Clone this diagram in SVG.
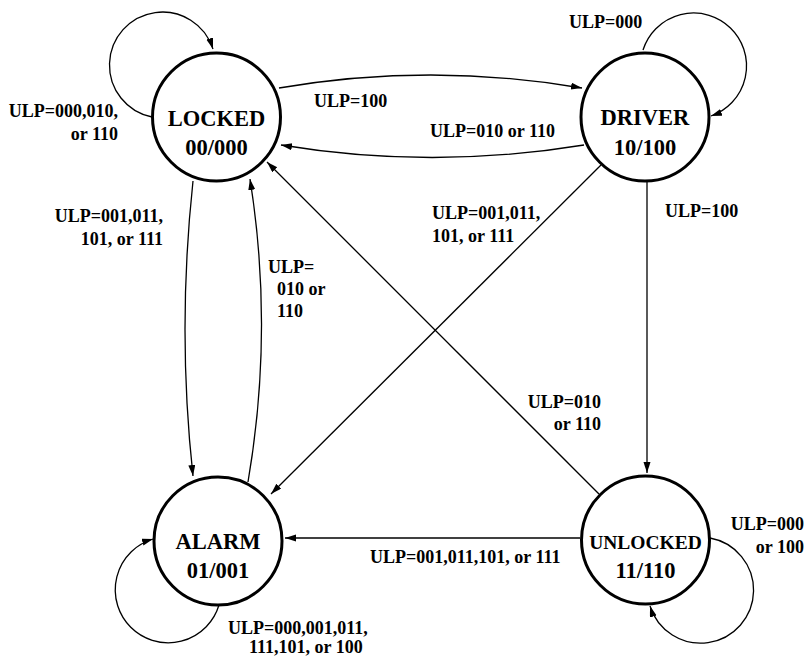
<svg xmlns="http://www.w3.org/2000/svg" width="807" height="658" viewBox="0 0 807 658">
<defs>
<marker id="ah" markerUnits="userSpaceOnUse" markerWidth="12" markerHeight="8" refX="11" refY="3.5" orient="auto">
<path d="M0,0 L11,3.5 L0,7 z" fill="#000"/>
</marker>
<style>
.st{fill:#fff;stroke:#000;stroke-width:3}
.nt{font-family:"Liberation Serif","Times New Roman",serif;font-weight:bold;font-size:22.5px;text-anchor:middle;fill:#000}
.lb{font-family:"Liberation Serif","Times New Roman",serif;font-weight:bold;font-size:18px;fill:#000}
.e{text-anchor:end}
.c{fill:none;stroke:#000;stroke-width:1.3;marker-end:url(#ah)}
</style>
</defs>
<rect width="807" height="658" fill="#fff"/>
<g id="connectors">
<path class="c" d="M152,117 A53,53 0 1 1 213,49"/>
<path class="c" d="M643,50 A53,53 0 1 1 711,116"/>
<path class="c" d="M219,605 A53,53 0 1 1 153,539"/>
<path class="c" d="M710,538 A53,53 0 1 1 650,606"/>
<path class="c" d="M279,88 Q431,62 582,88"/>
<path class="c" d="M584,145 Q432,170 281,145"/>
<path class="c" d="M193,181 Q177,330 193,476"/>
<path class="c" d="M248,482 Q274,330 250,179"/>
<path class="c" d="M601,165 L271,494"/>
<path class="c" d="M599,494 L267,162"/>
<path class="c" d="M647,182 L647,473"/>
<path class="c" d="M580,538 L285,538"/>
</g>
<g id="labels">
<text class="lb e" x="118" y="117">ULP=000,010,</text>
<text class="lb e" x="118" y="140">or 110</text>
<text class="lb" x="314" y="107">ULP=100</text>
<text class="lb" x="430" y="137">ULP=010 or 110</text>
<text class="lb" x="569" y="28">ULP=000</text>
<text class="lb e" x="163" y="222">ULP=001,011,</text>
<text class="lb e" x="163" y="245">101, or 111</text>
<text class="lb" x="268" y="273">ULP=</text>
<text class="lb" x="277" y="295">010 or</text>
<text class="lb" x="277" y="317">110</text>
<text class="lb" x="432" y="219">ULP=001,011,</text>
<text class="lb" x="432" y="242">101, or 111</text>
<text class="lb" x="665" y="217">ULP=100</text>
<text class="lb e" x="601" y="408">ULP=010</text>
<text class="lb e" x="601" y="430">or 110</text>
<text class="lb" x="370" y="563">ULP=001,011,101, or 111</text>
<text class="lb e" x="804" y="530">ULP=000</text>
<text class="lb e" x="804" y="553">or 100</text>
<text class="lb" x="228" y="634">ULP=000,001,011,</text>
<text class="lb" x="249" y="653">111,101, or 100</text>
</g>
<g id="locked">
<circle class="st" cx="216.5" cy="117" r="64"/>
<text class="nt" x="216.5" y="126">LOCKED</text>
<text class="nt" x="216.5" y="155">00/000</text>
</g>
<g id="driver">
<circle class="st" cx="645" cy="117" r="64"/>
<text class="nt" x="645" y="125">DRIVER</text>
<text class="nt" x="645" y="155">10/100</text>
</g>
<g id="alarm">
<circle class="st" cx="218" cy="541" r="64"/>
<text class="nt" x="218" y="549">ALARM</text>
<text class="nt" x="218" y="578">01/001</text>
</g>
<g id="unlocked">
<circle class="st" cx="645.5" cy="540" r="64"/>
<text class="nt" x="645.5" y="549" style="font-size:19.5px">UNLOCKED</text>
<text class="nt" x="645.5" y="578">11/110</text>
</g>
</svg>
